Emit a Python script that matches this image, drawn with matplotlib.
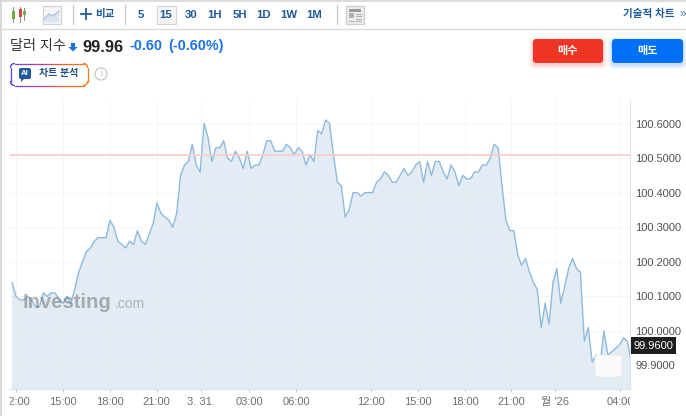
import numpy as np
import matplotlib
matplotlib.use("Agg")
import matplotlib.pyplot as plt
from matplotlib.patches import FancyBboxPatch, Rectangle, Circle, Polygon
from matplotlib.collections import LineCollection
from matplotlib.transforms import Bbox

plt.rcParams['font.family'] = ['Liberation Sans', 'Noto Sans CJK KR', 'DejaVu Sans']

# 15 minute closes
prices = [100.14, 100.10, 100.09, 100.09, 100.10, 100.09, 100.07, 100.07, 100.11, 100.10,
          100.11, 100.11, 100.09, 100.08, 100.10, 100.08, 100.12, 100.17, 100.20, 100.23,
          100.24, 100.26, 100.27, 100.27, 100.27, 100.32, 100.30, 100.26, 100.25, 100.24,
          100.26, 100.25, 100.29, 100.26, 100.25, 100.28, 100.31, 100.37, 100.34, 100.33,
          100.32, 100.30, 100.34, 100.45, 100.48, 100.49, 100.54, 100.48, 100.46, 100.60,
          100.56, 100.49, 100.53, 100.53, 100.55, 100.50, 100.49, 100.52, 100.50, 100.47,
          100.52, 100.47, 100.48, 100.48, 100.51, 100.55, 100.55, 100.52, 100.52, 100.52,
          100.54, 100.53, 100.51, 100.53, 100.52, 100.48, 100.51, 100.49, 100.58, 100.57,
          100.61, 100.60, 100.51, 100.43, 100.42, 100.33, 100.35, 100.40, 100.40, 100.39,
          100.40, 100.40, 100.40, 100.43, 100.44, 100.46, 100.45, 100.43, 100.43, 100.45,
          100.47, 100.45, 100.46, 100.48, 100.49, 100.43, 100.49, 100.45, 100.49, 100.49,
          100.46, 100.44, 100.48, 100.46, 100.42, 100.45, 100.44, 100.44, 100.46, 100.46,
          100.48, 100.48, 100.50, 100.54, 100.53, 100.42, 100.32, 100.29, 100.29, 100.22,
          100.19, 100.21, 100.17, 100.14, 100.12, 100.01, 100.08, 100.02, 100.14, 100.18,
          100.08, 100.13, 100.18, 100.21, 100.18, 100.17, 99.97, 100.01, 99.91, 99.93,
          99.90, 100.00, 99.93, 99.94, 99.95, 99.96, 99.98, 99.97, 99.91, 99.96]
hline_value = 100.51
last_price = 99.96
y_ticks = [99.9, 100.0, 100.1, 100.2, 100.3, 100.4, 100.5, 100.6]
x_ticks = [0.9, 12.9, 24.9, 36.9, 48.2, 60.5, 72.5, 91.6, 103.6, 115.6, 127.3, 138.5, 155.1]
x_labels = ["12:00", "15:00", "18:00", "21:00", "3. 31.", "03:00", "06:00",
            "12:00", "15:00", "18:00", "21:00", "월 '26", "04:00"]
periods = ["5", "15", "30", "1H", "5H", "1D", "1W", "1M"]
period_x = [141, 166, 191, 215, 240, 264, 289, 314]

W, H = 686, 416
fig = plt.figure(figsize=(W / 100, H / 100), dpi=100, facecolor="white")

# chart
ax = fig.add_axes([10 / W, (H - 389) / H, 620 / W, 289 / H])
x = np.arange(len(prices))
ax.fill_between(x, prices, 90, color="#e3ecf4", lw=0, zorder=1)
ax.plot(x, prices, color="#8dbbde", lw=1.0, zorder=3)
ax.axhline(hline_value, color="#f9caca", lw=1.2, zorder=4)
ax.set_xlim(-0.51, 157.65)
ax.set_ylim(99.832, 100.668)
ax.set_yticks(y_ticks)
ax.set_yticklabels(["%.4f" % v for v in y_ticks])
ax.yaxis.tick_right()
ax.set_xticks(x_ticks)
ax.set_xticklabels(x_labels)
ax.grid(True, color="#e9edf1", lw=0.7, alpha=0.5, zorder=2)
ax.set_axisbelow(False)
ax.tick_params(axis="y", length=0, pad=3.6, labelsize=8, labelcolor="#4e5358")
ax.tick_params(axis="x", length=2, width=0.7, color="#c8ccd0", pad=3.5, labelsize=8, labelcolor="#6b7075")
for s in ["top", "left"]:
    ax.spines[s].set_visible(False)
for s in ["right", "bottom"]:
    ax.spines[s].set_color("#dde3ea")
    ax.spines[s].set_linewidth(0.8)
# labels cut off by the plot edges
clip = Bbox([[10, 0], [630, 40]])
for lab in ax.get_xticklabels():
    lab.set_clip_on(True)
    lab.set_clip_box(clip)

# page furniture, drawn in pixel coordinates
ui = fig.add_axes([0, 0, 1, 1], zorder=5)
ui.set_xlim(0, W)
ui.set_ylim(H, 0)
ui.axis("off")


def rbox(x0, y0, x1, y1, r, fc, ec="none", lw=0.0, alpha=1.0, z=2):
    p = FancyBboxPatch((x0 + r, y0 + r), x1 - x0 - 2 * r, y1 - y0 - 2 * r,
                       boxstyle="round,pad=%f,rounding_size=%f" % (r, r),
                       fc=fc, ec=ec, lw=lw, alpha=alpha, zorder=z)
    ui.add_patch(p)
    return p


def txt(x0, y0, s, size, color="#222222", weight="normal", ha="left", **kw):
    return ui.text(x0, y0, s, fontsize=size, color=color, fontweight=weight,
                   ha=ha, va="center", **kw)


blue = "#1f5a9c"
ui.plot([0, W], [0.7, 0.7], color="#d6d6d6", lw=1.2)
ui.plot([0, W], [28.5, 28.5], color="#d9d9d9", lw=1.0)
ui.plot([0.8, 0.8], [0, H], color="#d6d6d6", lw=1.3)
for sx in [72.5, 124.5, 336.5]:
    ui.plot([sx, sx], [5, 24], color="#c9c9c9", lw=0.9)

# candle icon
for cx, cc, y0, y1, b0, b1 in [(13, "#6fae45", 7, 22, 11, 19), (20, "#d9433a", 7, 22, 9, 17),
                               (24, "#6fae45", 8, 20, 11, 15)]:
    ui.plot([cx, cx], [y0, y1], color="#8a8a8a", lw=0.7)
    ui.add_patch(Rectangle((cx - 1.5, b0), 3, b1 - b0, fc=cc, ec="none", zorder=3))

# line icon
ui.add_patch(Rectangle((42.5, 5.5), 18, 18, fc="#f5f5f5", ec="#d2d2d2", lw=0.9))
ui.add_patch(Polygon([(44, 19), (49, 14), (53, 16), (59, 11), (59, 22), (44, 22)], fc="#d8e4f0", ec="none", zorder=3))
ui.plot([44, 49, 53, 59], [19, 14, 16, 11], color="#a9c3de", lw=0.9, zorder=4)

ui.plot([81, 91], [14, 14], color=blue, lw=1.3)
ui.plot([86, 86], [9, 19], color=blue, lw=1.3)
txt(95.5, 14, "비교", 7.6, blue, "bold")

ui.add_patch(Rectangle((156.5, 5.5), 19, 18, fc="#f6f6f6", ec="#d6d6d6", lw=0.9))
for px, p in zip(period_x, periods):
    txt(px, 14.5, p, 8.2, blue, "bold", ha="center")

# layout icon
ui.add_patch(Rectangle((346, 5.5), 18, 18, fc="#ededed", ec="#cfcfcf", lw=1.0))
ui.add_patch(Rectangle((349, 9), 12, 2.5, fc="#9a9a9a", ec="none", zorder=3))
ui.add_patch(Rectangle((349, 13), 5, 5, fc="#b0b0b0", ec="none", zorder=3))
for ly in [13.5, 16, 18.5, 20.5]:
    ui.plot([355.5, 361], [ly, ly], color="#b5b5b5", lw=0.8)
ui.plot([349, 354], [20.5, 20.5], color="#b5b5b5", lw=0.8)

txt(623, 14, "기술적 차트", 7.6, blue, "bold")
txt(679, 14, "»", 8.5, "#4a78ad")

# header
txt(10, 46, "달러 지수", 10.2, "#333333")
ui.add_patch(Polygon([(71, 43), (75, 43), (75, 47), (77.5, 47), (73, 51.5), (68.5, 47), (71, 47)],
                     fc="#1a73e8", ec="none"))
txt(82.5, 47, "99.96", 11.8, "#222222", "bold")
txt(129, 46, "-0.60", 10.4, "#1a73e8", "bold")
txt(168, 46, "(-0.60%)", 10.4, "#1a73e8", "bold")

# AI button, outline runs from purple to orange
r = 4.0
x0, x1, y0, y1 = 10.5, 87.5, 63.5, 85.5
corners = [(x1 - r, y1 - r, 0), (x0 + r, y1 - r, 90), (x0 + r, y0 + r, 180), (x1 - r, y0 + r, 270)]
pts = []
for cx, cy, start in corners:
    ang = np.radians(np.linspace(start, start + 90, 8))
    pts.extend(zip(cx + r * np.cos(ang), cy + r * np.sin(ang)))
pts.append(pts[0])
pts = np.array(pts)
# split the long sides so the colour changes along them
fine = []
for a, b in zip(pts[:-1], pts[1:]):
    if np.hypot(*(b - a)) > 2:
        for f in np.linspace(0, 1, 30, endpoint=False):
            fine.append(a + (b - a) * f)
    else:
        fine.append(a)
fine.append(pts[-1])
fine = np.array(fine)
segs = np.stack([fine[:-1], fine[1:]], axis=1)
lc = LineCollection(segs, cmap=matplotlib.colors.LinearSegmentedColormap.from_list(
    "ai", ["#5b4be0", "#b03fb0", "#f0602a", "#f08020"]), lw=0.9, capstyle="round")
lc.set_array((segs[:, 0, 0] - 10) / 78)
ui.add_collection(lc)
rbox(19, 68, 31, 79, 2, "#1f5a9c", z=3)
ui.add_patch(Polygon([(21, 78), (25, 78), (21, 82)], fc="#1f5a9c", ec="none", zorder=3))
txt(25, 73.5, "AI", 5.6, "white", "bold", ha="center", zorder=4)
txt(39, 73, "차트 분석", 7.2, "#1f4f86", "bold")
ui.add_patch(Circle((101, 74), 6, fc="white", ec="#c8c8c8", lw=0.9))
txt(101, 74, "i", 6.5, "#b5b5b5", ha="center")

# buy and sell buttons
for grow, a in [(4, 0.05), (2.5, 0.07), (1, 0.10)]:
    rbox(533 - grow, 39 - grow + 2, 603 + grow, 63 + grow + 2, 5, "#ee3524", alpha=a, z=1)
    rbox(612 - grow, 39 - grow + 2, 683 + grow, 63 + grow + 2, 5, "#0070f7", alpha=a, z=1)
rbox(533, 39, 603, 63, 3.5, "#ee3524")
rbox(612, 39, 683, 63, 3.5, "#0070f7")
txt(568, 51, "매수", 8, "white", "bold", ha="center", zorder=4)
txt(647.5, 51, "매도", 8, "white", "bold", ha="center", zorder=4)

# watermark
txt(23, 302, "Investing", 14.6, "#6f7478", "bold", alpha=0.55, zorder=6)
txt(114.5, 304, ".com", 10, "#8b8f93", alpha=0.6, zorder=6)

# last price tag and the blank box over the line
ui.add_patch(Rectangle((630.5, 337), 45.5, 17, fc="#1e1e1e", ec="none", zorder=6))
txt(653.5, 346, "%.4f" % last_price, 8, "white", ha="center", zorder=7)
rbox(595, 355, 622, 377, 2.5, "#fafafa", ec="#e8e8e8", lw=0.5, z=6)

fig.savefig("out.png", dpi=100)
